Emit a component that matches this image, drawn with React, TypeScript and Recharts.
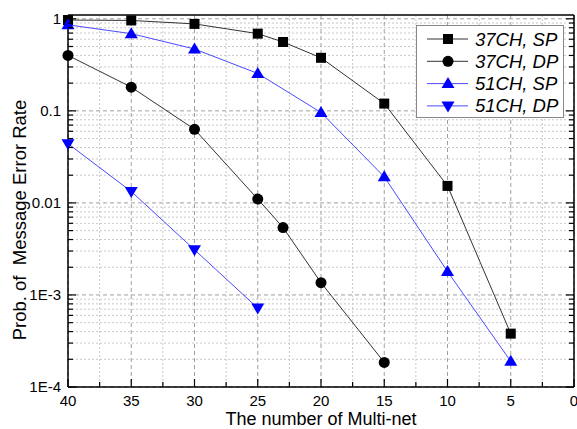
import { LineChart, Line, XAxis, YAxis, CartesianGrid, Legend } from 'recharts';

const X_TICKS = [40, 37.5, 35, 32.5, 30, 27.5, 25, 22.5, 20, 17.5, 15, 12.5, 10, 7.5, 5, 2.5, 0];
const X_MAJOR = [40, 35, 30, 25, 20, 15, 10, 5, 0];
const Y_MAJOR = [1e-4, 1e-3, 0.01, 0.1, 1];
const Y_LABELS = ['1E-4', '1E-3', '0.01', '0.1', '1'];
const Y_MINOR = [1e-4, 1e-3, 0.01, 0.1].flatMap(d => [2, 3, 4, 5, 6, 7, 8, 9].map(m => +(d * m).toPrecision(3)));

const SP37_X = [40, 35, 30, 25, 23, 20, 15, 10, 5];
const SP37_Y = [0.97, 0.96, 0.88, 0.69, 0.56, 0.377, 0.12, 0.0153, 3.8e-4];
const DP37_X = [40, 35, 30, 25, 23, 20, 15];
const DP37_Y = [0.4, 0.181, 0.063, 0.011, 0.0054, 0.00136, 1.85e-4];
const SP51_X = [40, 35, 30, 25, 20, 15, 10, 5];
const SP51_Y = [0.86, 0.69, 0.47, 0.255, 0.096, 0.0192, 0.0018, 1.9e-4];
const DP51_X = [40, 35, 30, 25];
const DP51_Y = [0.044, 0.0133, 0.0031, 7.2e-4];

const X_TITLE = 'The number of Multi-net';
const Y_TITLE = 'Prob. of\u00a0\u00a0Message Error Rate';

const toRows = (xs: number[], ys: number[]) => xs.map((x, i) => ({ x, y: ys[i] }));

const FONT = 'Arial, "Liberation Sans", sans-serif';

const SERIES = [
  { name: '37CH, SP', data: toRows(SP37_X, SP37_Y), line: '#333', fill: '#000', shape: 'square' },
  { name: '37CH, DP', data: toRows(DP37_X, DP37_Y), line: '#333', fill: '#000', shape: 'circle' },
  { name: '51CH, SP', data: toRows(SP51_X, SP51_Y), line: '#4a4aff', fill: '#0000ff', shape: 'up' },
  { name: '51CH, DP', data: toRows(DP51_X, DP51_Y), line: '#4a4aff', fill: '#0000ff', shape: 'down' },
];

function Marker({ cx, cy, shape, fill }: any) {
  if (cx == null || cy == null) return null;
  if (shape === 'square') return <rect x={cx - 5} y={cy - 5} width={10} height={10} fill={fill} />;
  if (shape === 'circle') return <circle cx={cx} cy={cy} r={5.5} fill={fill} />;
  if (shape === 'up') return <path d={`M${cx},${cy - 6.5}L${cx + 6.5},${cy + 4.5}L${cx - 6.5},${cy + 4.5}Z`} fill={fill} />;
  return <path d={`M${cx},${cy + 6.5}L${cx + 6.5},${cy - 4.5}L${cx - 6.5},${cy - 4.5}Z`} fill={fill} />;
}

const BottomTick = ({ x, y, payload }: any) => {
  const major = X_MAJOR.includes(payload.value);
  return (
    <g>
      <line x1={x} x2={x} y1={y} y2={y - (major ? 8 : 5)} stroke="#000" strokeWidth={1.2} />
      {major && <text x={x} y={y + 19} textAnchor="middle" fontSize={15} fontFamily={FONT} fill="#000">{payload.value}</text>}
    </g>
  );
};
const TopTick = ({ x, y, payload }: any) => {
  const major = X_MAJOR.includes(payload.value);
  return <line x1={x} x2={x} y1={y} y2={y + (major ? 8 : 5)} stroke="#000" strokeWidth={1.2} />;
};
const LeftTick = ({ x, y, payload }: any) => {
  const idx = Y_MAJOR.indexOf(payload.value);
  const major = idx >= 0;
  return (
    <g>
      <line x1={x} x2={x + (major ? 8 : 5)} y1={y} y2={y} stroke="#000" strokeWidth={1.2} />
      {major && <text x={x - 7} y={y + 5} textAnchor="end" fontSize={15} fontFamily={FONT} fill="#000">{Y_LABELS[idx]}</text>}
    </g>
  );
};
const RightTick = ({ x, y, payload }: any) => {
  const major = Y_MAJOR.includes(payload.value);
  return <line x1={x} x2={x - (major ? 8 : 5)} y1={y} y2={y} stroke="#000" strokeWidth={1.2} />;
};

const XTitle = ({ viewBox }: any) => (
  <text x={viewBox.x + viewBox.width / 2} y={viewBox.y + 38} textAnchor="middle" fontSize={18} fontFamily={FONT} fill="#000">{X_TITLE}</text>
);
const YTitle = ({ viewBox }: any) => {
  const tx = 26;
  const ty = viewBox.y + viewBox.height / 2 + 19;
  return (
    <text x={tx} y={ty} transform={`rotate(-90, ${tx}, ${ty})`} textAnchor="middle" fontSize={18.5} fontFamily={FONT} fill="#000">{Y_TITLE}</text>
  );
};

const LegendBox = () => (
  <svg width={149} height={94} style={{ display: 'block' }}>
    <rect x={0.5} y={0.5} width={147} height={92} fill="#fff" stroke="#888" strokeWidth={1} />
    {SERIES.map((s, i) => {
      const cy = 14 + i * 22.3;
      return (
        <g key={s.name}>
          <line x1={11} x2={52} y1={cy} y2={cy} stroke={s.line} strokeWidth={1} />
          <Marker cx={32} cy={cy} shape={s.shape} fill={s.fill} />
          <text x={59} y={cy + 6.5} fontSize={18.5} fontStyle="italic" fontFamily={FONT} fill="#000">{s.name}</text>
        </g>
      );
    })}
  </svg>
);

export default function App() {
  const ticksAll = [...Y_MAJOR, ...Y_MINOR].sort((a, b) => a - b);
  return (
    <div style={{ position: 'absolute', left: 0, top: 0, background: '#fff' }}>
      <LineChart width={577} height={429} margin={{ top: 0, right: 0, bottom: 0, left: 0 }} style={{ fontFamily: FONT }}>
        <CartesianGrid vertical horizontal verticalValues={X_TICKS.filter(v => !X_MAJOR.includes(v))} horizontalValues={Y_MINOR}
          stroke="#c8c8c8" strokeDasharray="2 2" fill="none" />
        <CartesianGrid vertical horizontal verticalValues={X_MAJOR} horizontalValues={Y_MAJOR}
          stroke="#a0a0a0" strokeDasharray="4 3" fill="none" />
        <XAxis dataKey="x" type="number" domain={[0, 40]} reversed ticks={X_TICKS} interval={0} height={42}
          tickSize={0} tickMargin={0} tickLine={false} tick={<BottomTick />} axisLine={{ stroke: '#000', strokeWidth: 1.5 }}
          label={<XTitle />} />
        <XAxis xAxisId="top" orientation="top" dataKey="x" type="number" domain={[0, 40]} reversed ticks={X_TICKS} interval={0}
          height={15} tickSize={0} tickMargin={0} tickLine={false} tick={<TopTick />} axisLine={{ stroke: '#000', strokeWidth: 1.5 }} />
        <YAxis dataKey="y" scale="log" domain={[1e-4, 1.1]} allowDataOverflow ticks={ticksAll} interval={0} width={68}
          tickSize={0} tickMargin={0} tickLine={false} tick={<LeftTick />} axisLine={{ stroke: '#000', strokeWidth: 1.5 }}
          label={<YTitle />} />
        <YAxis yAxisId="right" orientation="right" dataKey="y" scale="log" domain={[1e-4, 1.1]} allowDataOverflow ticks={ticksAll} interval={0}
          width={3} tickSize={0} tickMargin={0} tickLine={false} tick={<RightTick />} axisLine={{ stroke: '#000', strokeWidth: 1.5 }} />
        {SERIES.map(s => (
          <Line key={s.name} data={s.data} dataKey="y" name={s.name} type="linear" stroke={s.line} strokeWidth={1}
            dot={(p: any) => <Marker key={`${s.name}-${p.index}`} cx={p.cx} cy={p.cy} shape={s.shape} fill={s.fill} />}
            activeDot={false} isAnimationActive={false} />
        ))}
        <Legend layout="vertical" align="center" verticalAlign="middle" content={() => <LegendBox />}
          wrapperStyle={{ position: 'absolute', left: 416, top: 25, width: 149, height: 94 }} />
      </LineChart>
    </div>
  );
}
